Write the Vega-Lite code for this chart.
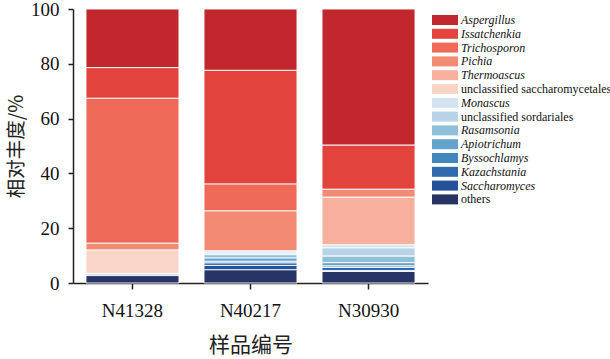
{
  "$schema": "https://vega.github.io/schema/vega-lite/v6.json",
  "autosize": "none",
  "padding": {"left": 73, "top": 9, "right": 182, "bottom": 76},
  "width": 355,
  "height": 274,
  "background": "white",
  "config": {"view": {"stroke": null}, "font": "Liberation Serif"},
  "data": {"values": [
    {"sample": "N41328", "genus": "Aspergillus", "rank": 1, "value": 21.4},
    {"sample": "N41328", "genus": "Issatchenkia", "rank": 2, "value": 11.2},
    {"sample": "N41328", "genus": "Trichosporon", "rank": 3, "value": 52.9},
    {"sample": "N41328", "genus": "Pichia", "rank": 4, "value": 2.5},
    {"sample": "N41328", "genus": "unclassified saccharomycetales", "rank": 6, "value": 8.5},
    {"sample": "N41328", "genus": "Monascus", "rank": 7, "value": 0.8},
    {"sample": "N41328", "genus": "others", "rank": 14, "value": 2.7},
    {"sample": "N40217", "genus": "Aspergillus", "rank": 1, "value": 22.4},
    {"sample": "N40217", "genus": "Issatchenkia", "rank": 2, "value": 41.5},
    {"sample": "N40217", "genus": "Trichosporon", "rank": 3, "value": 9.8},
    {"sample": "N40217", "genus": "Pichia", "rank": 4, "value": 14.6},
    {"sample": "N40217", "genus": "Monascus", "rank": 7, "value": 0.8},
    {"sample": "N40217", "genus": "unclassified sordariales", "rank": 8, "value": 0.6},
    {"sample": "N40217", "genus": "Rasamsonia", "rank": 9, "value": 1.2},
    {"sample": "N40217", "genus": "Apiotrichum", "rank": 10, "value": 1.2},
    {"sample": "N40217", "genus": "Byssochlamys", "rank": 11, "value": 0.6},
    {"sample": "N40217", "genus": "Kazachstania", "rank": 12, "value": 0.9},
    {"sample": "N40217", "genus": "Saccharomyces", "rank": 13, "value": 1.6},
    {"sample": "N40217", "genus": "others", "rank": 14, "value": 4.8},
    {"sample": "N30930", "genus": "Aspergillus", "rank": 1, "value": 49.7},
    {"sample": "N30930", "genus": "Issatchenkia", "rank": 2, "value": 16.1},
    {"sample": "N30930", "genus": "Pichia", "rank": 4, "value": 2.9},
    {"sample": "N30930", "genus": "Thermoascus", "rank": 5, "value": 17.4},
    {"sample": "N30930", "genus": "Monascus", "rank": 7, "value": 1.1},
    {"sample": "N30930", "genus": "unclassified sordariales", "rank": 8, "value": 3.0},
    {"sample": "N30930", "genus": "Rasamsonia", "rank": 9, "value": 2.4},
    {"sample": "N30930", "genus": "Apiotrichum", "rank": 10, "value": 1.2},
    {"sample": "N30930", "genus": "Byssochlamys", "rank": 11, "value": 0.5},
    {"sample": "N30930", "genus": "Kazachstania", "rank": 12, "value": 1.2},
    {"sample": "N30930", "genus": "Saccharomyces", "rank": 13, "value": 0.3},
    {"sample": "N30930", "genus": "others", "rank": 14, "value": 4.2}
  ]},
  "mark": {"type": "bar", "stroke": "white", "strokeWidth": 1, "strokeOpacity": 0.9},
  "encoding": {
    "x": {
      "field": "sample", "type": "nominal",
      "sort": ["N41328", "N40217", "N30930"],
      "scale": {"paddingInner": 0.212, "paddingOuter": 0.11},
      "axis": {
        "title": "样品编号", "titleFont": "Noto Sans CJK SC", "titleFontSize": 21, "titleFontWeight": "normal",
        "titleColor": "#222", "titlePadding": 14,
        "labelAngle": 0, "labelFont": "Liberation Serif", "labelFontSize": 19, "labelColor": "#111",
        "labelPadding": 12,
        "domainColor": "#222", "domainWidth": 1.5, "tickColor": "#222", "tickWidth": 1.5, "tickSize": 6
      }
    },
    "y": {
      "field": "value", "type": "quantitative", "stack": "zero",
      "scale": {"domain": [0, 100], "nice": false},
      "axis": {
        "title": "相对丰度/%", "titleFont": "Noto Sans CJK SC", "titleFontSize": 19.5, "titleFontWeight": "normal",
        "titleColor": "#222", "titlePadding": 4,
        "values": [0, 20, 40, 60, 80, 100], "grid": false,
        "labelFont": "Liberation Serif", "labelFontSize": 19, "labelColor": "#111", "labelPadding": 9,
        "domainColor": "#222", "domainWidth": 1.5, "tickColor": "#222", "tickWidth": 1.5, "tickSize": 5
      }
    },
    "order": {"field": "rank", "sort": "descending"},
    "color": {
      "field": "genus", "type": "nominal",
      "scale": {
        "domain": ["Aspergillus", "Issatchenkia", "Trichosporon", "Pichia", "Thermoascus", "unclassified saccharomycetales", "Monascus", "unclassified sordariales", "Rasamsonia", "Apiotrichum", "Byssochlamys", "Kazachstania", "Saccharomyces", "others"],
        "range": ["#c0282e", "#e2433d", "#ef6a58", "#f38b74", "#f6b09d", "#f9d5c8", "#d4e3f0", "#b8d3e8", "#8fc0d9", "#63a3cb", "#4386bc", "#2f6aad", "#24519a", "#273566"]
      },
      "legend": {
        "title": null, "orient": "none", "legendX": 366, "legendY": 5, "padding": 0,
        "symbolType": "M-2.6,-1H2.6V1H-2.6Z", "symbolSize": 100, "symbolStrokeWidth": 0,
        "labelFont": "Liberation Serif", "labelFontSize": 12, "labelColor": "#111", "labelOffset": 10,
        "labelFontStyle": {"expr": "indexof(['unclassified saccharomycetales','unclassified sordariales','others'], datum.label) >= 0 ? 'normal' : 'italic'"},
        "rowPadding": 1.8, "labelLimit": 200
      }
    }
  }
}
